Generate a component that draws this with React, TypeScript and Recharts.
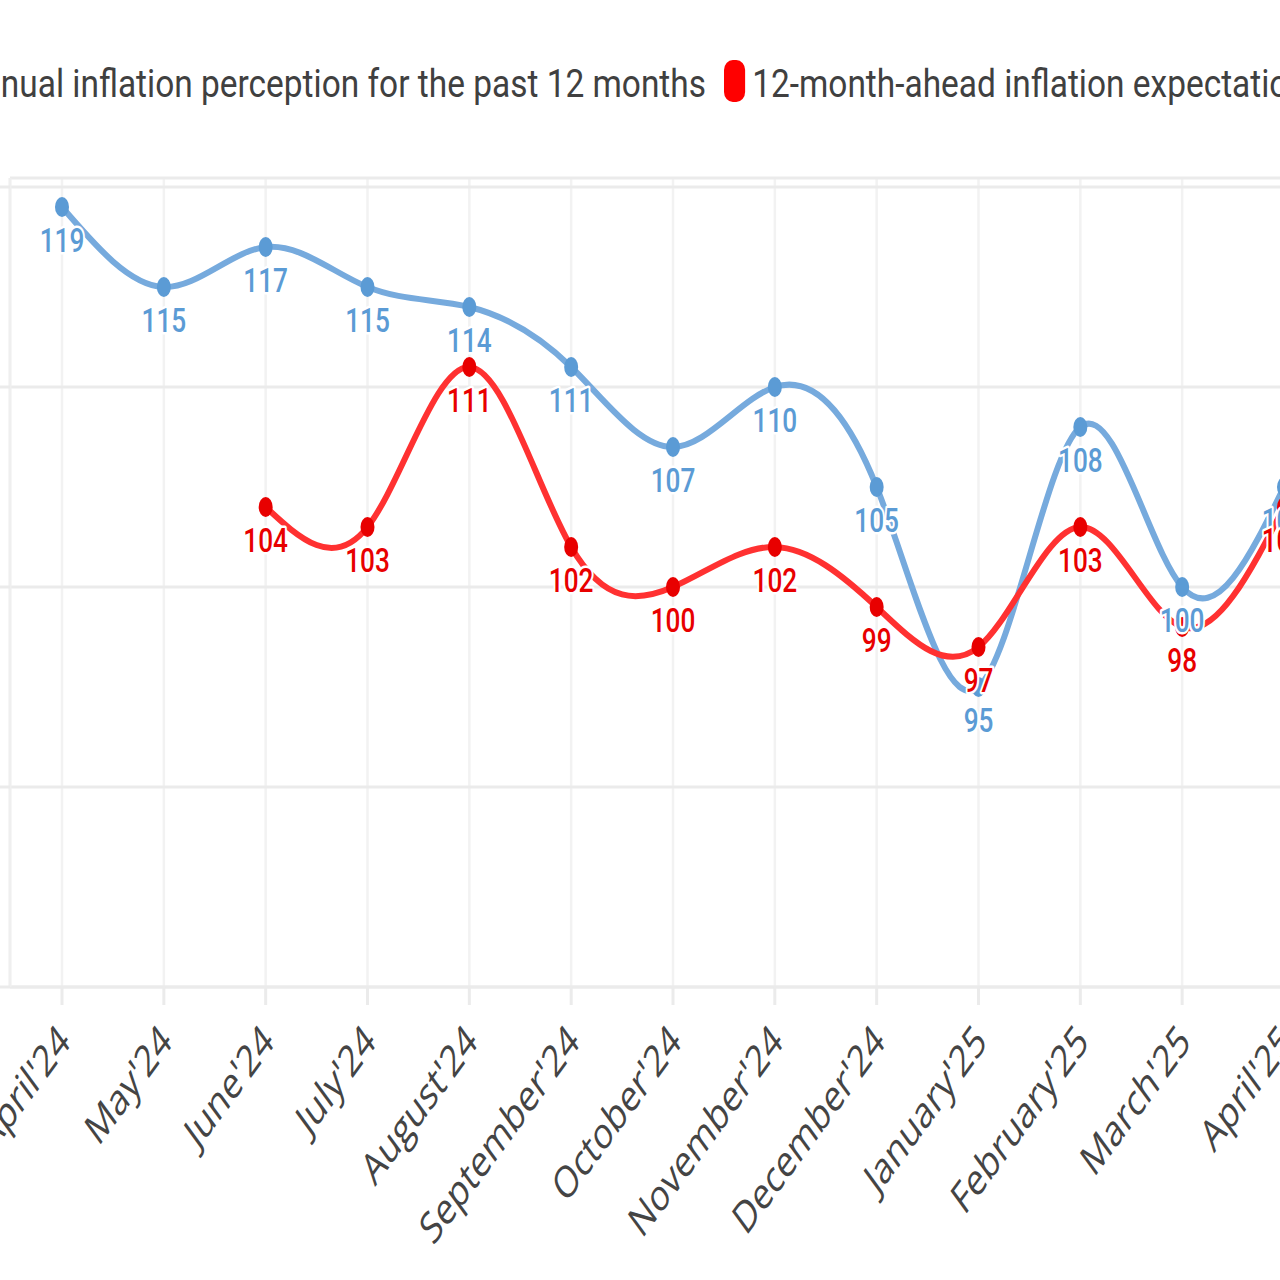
import React from 'react'
import {
  LineChart,
  Line,
  XAxis,
  YAxis,
  CartesianGrid,
  Legend,
  LabelList,
} from 'recharts'

const months = [
  "April'24", "May'24", "June'24", "July'24", "August'24", "September'24",
  "October'24", "November'24", "December'24", "January'25", "February'25",
  "March'25", "April'25",
]
const perception = [119, 115, 117, 115, 114, 111, 107, 110, 105, 95, 108, 100, 105]
const expectation = [null, null, 104, 103, 111, 102, 100, 102, 99, 97, 103, 98, 104]
const yTicks = [80, 90, 100, 110, 120]

const PERCEPTION_NAME = 'Annual inflation perception for the past 12 months'
const EXPECTATION_NAME = '12-month-ahead inflation expectation'

const BLUE_LINE = '#76aadd'
const BLUE = '#5b9bd5'
const RED_LINE = '#ff3131'
const RED = '#e80000'
const GRID = '#ebebeb'

const data = months.map((m, i) => ({
  month: m,
  perception: perception[i],
  expectation: expectation[i],
}))

// rotated month labels, squashed sideways like the original
const XTick = (props: any) => {
  const { x, y, payload } = props
  return (
    <g transform={`translate(${x + 10},${y + 37})`}>
      <text
        transform="scale(0.73,1) rotate(-45)"
        textAnchor="end"
        fill="#444"
        fontSize={44}
        fontFamily="'Open Sans', sans-serif"
      >
        {payload.value}
      </text>
    </g>
  )
}

const makeDot = (color: string) => (p: any) => {
  if (p.value == null || p.cy == null) return <g key={`d-${p.index}`} />
  return <ellipse key={`d-${p.index}`} cx={p.cx} cy={p.cy} rx={7} ry={10} fill={color} />
}

const makeLabel = (color: string) => (p: any) => {
  const { x, y, value, index } = p
  if (value == null || y == null) return null
  return (
    <text
      key={`l-${index}`}
      transform={`translate(${x},${y + 45}) scale(0.77,1)`}
      textAnchor="middle"
      fill={color}
      stroke="#fff"
      strokeWidth={5}
      strokeLinejoin="round"
      paintOrder="stroke"
      fontSize={34}
      fontWeight={500}
      fontFamily="Roboto, sans-serif"
    >
      {value}
    </text>
  )
}

const LEG_SCALE = 0.88

const LegendItem = ({ color, text }: { color: string; text: string }) => (
  <>
    <span
      style={{
        display: 'inline-block',
        width: 24,
        height: 42,
        borderRadius: 10,
        background: color,
        marginRight: 8,
        flex: 'none',
      }}
    />
    <span style={{ position: 'relative', top: 3, lineHeight: '42px' }}>{text}</span>
  </>
)

const renderLegend = () => {
  const common: React.CSSProperties = {
    position: 'absolute',
    top: 60,
    display: 'flex',
    alignItems: 'center',
    whiteSpace: 'nowrap',
    fontFamily: 'Roboto, sans-serif',
    fontSize: 38,
    color: '#404040',
  }
  return (
    <div style={{ position: 'relative', height: 178 }}>
      <div
        style={{
          ...common,
          left: 786,
          transform: `translateX(-100%) scaleX(${LEG_SCALE})`,
          transformOrigin: '100% 0',
        }}
      >
        <LegendItem color={BLUE} text={PERCEPTION_NAME} />
      </div>
      <div
        style={{
          ...common,
          left: 804,
          transform: `scaleX(${LEG_SCALE})`,
          transformOrigin: '0 0',
        }}
      >
        <LegendItem color="#ff0000" text={EXPECTATION_NAME} />
      </div>
    </div>
  )
}

export default function App() {
  return (
    <div
      style={{
        position: 'fixed',
        left: 0,
        top: 0,
        width: 1280,
        height: 1280,
        overflow: 'hidden',
        background: '#fff',
      }}
    >
      <div style={{ position: 'absolute', left: -100, top: 0 }}>
        <LineChart
          width={1456}
          height={1280}
          data={data}
          margin={{ top: 0, right: 20, bottom: 0, left: 20 }}
        >
          <CartesianGrid horizontal={false} stroke="#f2f2f2" strokeWidth={2.5} />
          <CartesianGrid vertical={false} stroke={GRID} strokeWidth={3} />
          <XAxis
            dataKey="month"
            interval={0}
            padding={{ left: 52, right: 52 }}
            height={293}
            tick={<XTick />}
            tickSize={18}
            tickLine={{ stroke: GRID, strokeWidth: 3 }}
            axisLine={{ stroke: GRID, strokeWidth: 3 }}
          />
          <YAxis
            domain={[80, 120]}
            ticks={yTicks}
            width={90}
            padding={{ top: 9 }}
            tickSize={12}
            tickLine={{ stroke: GRID, strokeWidth: 3 }}
            axisLine={{ stroke: '#efefef', strokeWidth: 3 }}
            tick={{ fontSize: 30, fill: '#444', fontFamily: 'Roboto, sans-serif' }}
          />
          <Legend verticalAlign="top" content={renderLegend} />
          <Line
            type="natural"
            dataKey="perception"
            name={PERCEPTION_NAME}
            stroke={BLUE_LINE}
            strokeWidth={6}
            dot={makeDot(BLUE)}
            activeDot={false}
            isAnimationActive={false}
          />
          <Line
            type="natural"
            dataKey="expectation"
            name={EXPECTATION_NAME}
            stroke={RED_LINE}
            strokeWidth={6}
            dot={makeDot(RED)}
            activeDot={false}
            isAnimationActive={false}
          />
          <Line
            dataKey="perception"
            stroke="none"
            dot={false}
            activeDot={false}
            legendType="none"
            isAnimationActive={false}
          >
            <LabelList dataKey="perception" content={makeLabel(BLUE)} />
          </Line>
          <Line
            dataKey="expectation"
            stroke="none"
            dot={false}
            activeDot={false}
            legendType="none"
            isAnimationActive={false}
          >
            <LabelList dataKey="expectation" content={makeLabel(RED)} />
          </Line>
        </LineChart>
      </div>
    </div>
  )
}
